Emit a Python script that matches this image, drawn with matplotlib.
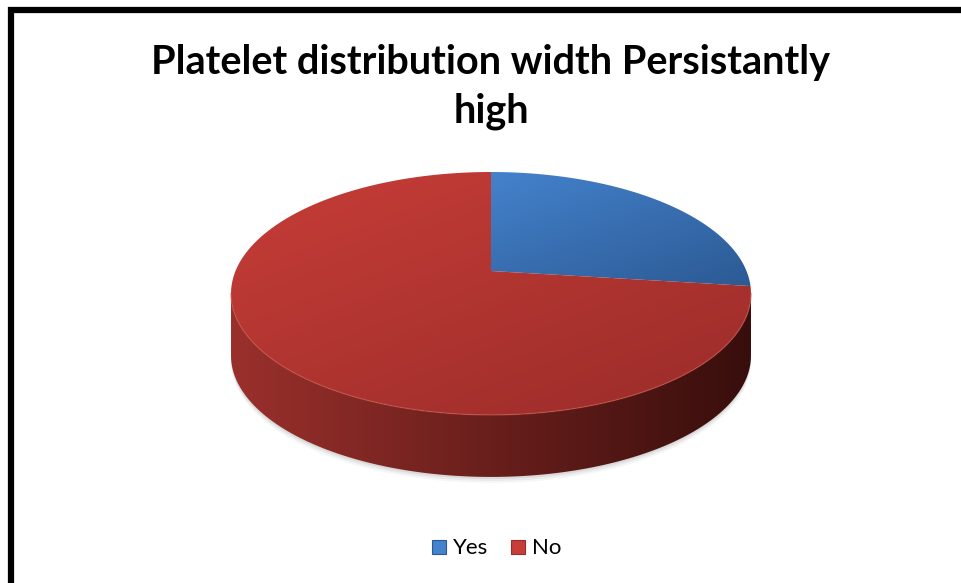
import matplotlib.pyplot as plt
import numpy as np
from matplotlib.patches import Polygon, Rectangle
from matplotlib.colors import to_rgb

labels = ["Yes", "No"]
values = [27, 73]
top_colors = [("#4482cc", "#2c5a94"), ("#c73d38", "#9a2c29")]
side_colors = ("#9a302c", "#380e0c")

W, H = 962, 583
fig = plt.figure(figsize=(W / 100, H / 100), dpi=100)
ax = fig.add_axes([0, 0, 1, 1])
ax.set_xlim(0, W)
ax.set_ylim(H, 0)
ax.axis("off")

# projection of the tilted disc (perspective makes the back half smaller)
cx, cy = 491, 271
A, B, k = 255.5, 117.3, 0.185
depth = 62


def proj(phi, drop=0.0):
    u, w = np.sin(phi), np.cos(phi)
    return cx + A * u / (1 + k * w), cy - B * w / (1 + k * w) + drop


def grad_fill(verts, c0, c1, mode):
    poly = Polygon(verts, closed=True, facecolor="none", edgecolor="none")
    ax.add_patch(poly)
    x0, y0 = verts.min(axis=0)
    x1, y1 = verts.max(axis=0)
    n = 200
    xx, yy = np.meshgrid(np.linspace(0, 1, n), np.linspace(0, 1, n))
    if mode == "x":
        t = xx
    else:
        t = 0.45 * xx + 0.55 * yy
    a, b = np.array(to_rgb(c0)), np.array(to_rgb(c1))
    img = a[None, None, :] * (1 - t[..., None]) + b[None, None, :] * t[..., None]
    im = ax.imshow(img, extent=(x0, x1, y1, y0), origin="upper",
                   aspect="auto", interpolation="bilinear", zorder=poly.get_zorder())
    im.set_clip_path(poly)
    return poly


# soft shadow under the side wall
phi_front = np.linspace(np.pi / 2 + 0.1, 3 * np.pi / 2 - 0.1, 200)
for off, al in [(6, 0.05), (4, 0.08), (2, 0.12)]:
    sx, sy = proj(phi_front, depth + off)
    tx, ty = proj(phi_front[::-1], depth - 20)
    ax.fill(np.r_[sx, tx], np.r_[sy, ty], color="#606060", alpha=al, lw=0, zorder=1)

# side wall (front only)
phi_l = np.arccos(-k)
phi_side = np.linspace(phi_l, 2 * np.pi - phi_l, 300)
ux, uy = proj(phi_side)
bx, by = proj(phi_side[::-1], depth)
side = np.column_stack([np.r_[ux, bx], np.r_[uy, by]])
grad_fill(side, side_colors[0], side_colors[1], "x")

# top faces of the slices
fracs = np.array(values) / sum(values)
edges = np.r_[0, np.cumsum(fracs)] * 2 * np.pi
for i in range(len(values)):
    phis = np.linspace(edges[i], edges[i + 1], 200)
    rx, ry = proj(phis)
    verts = np.column_stack([np.r_[cx, rx], np.r_[cy, ry]])
    grad_fill(verts, top_colors[i][0], top_colors[i][1], "xy")

# light rim along the top edge of the wall
ax.plot(ux, uy, color="#c8504a", lw=1.0, alpha=0.6, zorder=3)

# title
ax.text(491, 74, "Platelet distribution width Persistantly", ha="center",
        va="baseline", fontsize=28.5, fontweight="bold", family="Lato")
ax.text(491, 122, "high", ha="center", va="baseline", fontsize=28.5,
        fontweight="bold", family="Lato")

# legend
leg_x = [432, 511]
for i, lab in enumerate(labels):
    ax.add_patch(Rectangle((leg_x[i], 540), 14, 14, facecolor=top_colors[i][0],
                           edgecolor=top_colors[i][1], lw=0.8))
    ax.text(leg_x[i] + 21, 554, lab, ha="left", va="baseline", fontsize=16,
            family="Lato")

# frame
ax.plot([11, 11, W], [H, 10, 10], color="black", lw=4.5, solid_joinstyle="miter")

fig.savefig("out.png", dpi=100)
